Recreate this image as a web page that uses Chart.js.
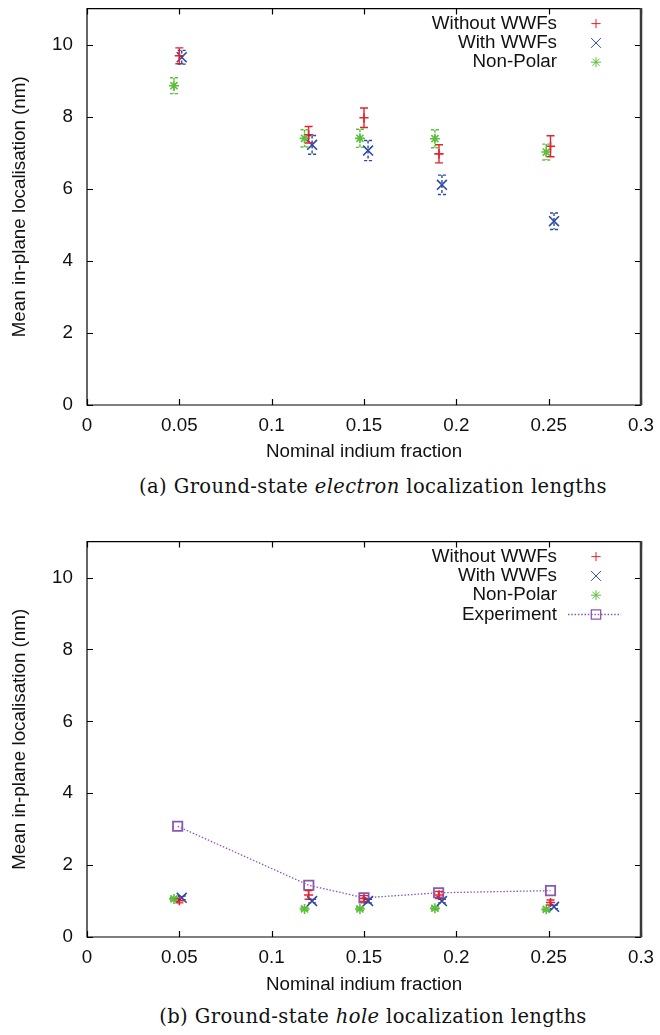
<!DOCTYPE html>
<html>
<head>
<meta charset="utf-8">
<script src="https://cdn.jsdelivr.net/npm/chart.js@4.4.1/dist/chart.umd.min.js"></script>
<style>
  body { margin: 0; background: #fff; width: 660px; height: 1035px; position: relative; overflow: hidden; }
  canvas { position: absolute; left: 0; }
  .cap { position: absolute; left: 96px; width: 554px; text-align: center; white-space: nowrap;
         font-family: "DejaVu Serif", "Liberation Serif", serif; font-size: 19.5px; letter-spacing: 0.4px; color: #111; }
</style>
</head>
<body>
<canvas id="electron" width="660" height="472" style="top:0"></canvas>
<div class="cap" style="top:475px">(a) Ground-state <i>electron</i> localization lengths</div>
<canvas id="hole" width="660" height="472" style="top:533px"></canvas>
<div class="cap" style="top:1005px">(b) Ground-state <i>hole</i> localization lengths</div>

<script>
// Axis ticks
const xTicks = [0, 0.05, 0.1, 0.15, 0.2, 0.25, 0.3];
const yTicks = [0, 2, 4, 6, 8, 10];

// Series labels
const nameWithout = 'Without WWFs';
const nameWith = 'With WWFs';
const nameNonPolar = 'Non-Polar';
const nameExperiment = 'Experiment';

// Nominal indium fraction of each sample (slightly offset per series)
const withoutX  = [0.0500, 0.1200, 0.1500, 0.1906, 0.2510];
const withX     = [0.0513, 0.1219, 0.1522, 0.1922, 0.2529];
const nonPolarX = [0.0471, 0.1178, 0.1478, 0.1884, 0.2487];
const experimentX = [0.0491, 0.1201, 0.1500, 0.1904, 0.2510];

// Electron localisation lengths (nm) and their error bars
const electronWithout    = [9.69, 7.50, 7.97, 6.97, 7.18];
const electronWithoutErr = [0.22, 0.23, 0.27, 0.25, 0.29];
const electronWith       = [9.65, 7.22, 7.06, 6.11, 5.10];
const electronWithErr    = [0.19, 0.26, 0.28, 0.27, 0.23];
const electronNonPolar    = [8.86, 7.40, 7.40, 7.39, 7.02];
const electronNonPolarErr = [0.22, 0.24, 0.25, 0.25, 0.22];

// Hole localisation lengths (nm) and their error bars
const holeWithout    = [1.01, 1.17, 1.07, 1.17, 0.96];
const holeWithoutErr = [0.06, 0.12, 0.08, 0.10, 0.07];
const holeWith       = [1.09, 1.00, 1.00, 1.00, 0.84];
const holeWithErr    = [0.05, 0.05, 0.05, 0.05, 0.05];
const holeNonPolar    = [1.06, 0.78, 0.78, 0.80, 0.77];
const holeNonPolarErr = [0.04, 0.04, 0.04, 0.04, 0.04];
const holeExperiment  = [3.08, 1.44, 1.09, 1.23, 1.29];

const RED = '#e8222c', BLUE = '#2c48a8', GREEN = '#5cbf3c', PURPLE = '#8a58b4';
const FONT = '"Liberation Sans", Arial, Helvetica, sans-serif';
const FS = 18.8;

const pts = (xs, ys) => xs.map((x, i) => ({ x: x, y: ys[i] }));

function pointDs(label, xs, ys, errs, color, style, radius, dashed) {
  return {
    label, data: pts(xs, ys), errors: errs, errDashed: dashed,
    showLine: false, pointStyle: style, pointRadius: radius, pointHoverRadius: radius,
    borderColor: color, backgroundColor: color, pointBorderWidth: 1.6, borderWidth: 1.6
  };
}

// Error bars drawn from the datasets' own error arrays
const errorBars = {
  id: 'errorBars',
  afterDatasetsDraw(chart) {
    const { ctx, scales: { x, y } } = chart;
    ctx.save();
    chart.data.datasets.forEach(ds => {
      if (!ds.errors) return;
      ctx.strokeStyle = ds.borderColor;
      ctx.lineWidth = 1.4;
      ctx.setLineDash(ds.errDashed ? [3, 2] : []);
      ds.data.forEach((p, i) => {
        const e = ds.errors[i];
        const px = x.getPixelForValue(p.x);
        const y1 = y.getPixelForValue(p.y + e), y2 = y.getPixelForValue(p.y - e);
        const cap = 4;
        ctx.beginPath();
        ctx.moveTo(px, y1); ctx.lineTo(px, y2);
        ctx.moveTo(px - cap, y1); ctx.lineTo(px + cap, y1);
        ctx.moveTo(px - cap, y2); ctx.lineTo(px + cap, y2);
        ctx.stroke();
      });
    });
    ctx.restore();
  }
};

// Plot frame with inward ticks on all four sides
const frame = {
  id: 'frame',
  afterDraw(chart) {
    const { ctx, chartArea: a, scales: { x, y } } = chart;
    ctx.save();
    ctx.strokeStyle = '#000';
    ctx.lineWidth = 1.2;
    ctx.beginPath();
    ctx.moveTo(a.right, a.top); ctx.lineTo(a.left, a.top);
    ctx.lineTo(a.left, a.bottom); ctx.lineTo(a.right, a.bottom);
    const t = 6;
    xTicks.forEach(v => {
      const px = Math.round(x.getPixelForValue(v)) + 0.5;
      ctx.moveTo(px, a.bottom); ctx.lineTo(px, a.bottom - t);
      ctx.moveTo(px, a.top); ctx.lineTo(px, a.top + t);
    });
    yTicks.forEach(v => {
      const py = Math.round(y.getPixelForValue(v)) + 0.5;
      ctx.moveTo(a.left, py); ctx.lineTo(a.left + t, py);
      ctx.moveTo(a.right, py); ctx.lineTo(a.right - t, py);
    });
    ctx.stroke();
    ctx.strokeStyle = '#3a3a3a';
    ctx.lineWidth = 2.5;
    ctx.beginPath();
    ctx.moveTo(a.right, a.top - 0.6); ctx.lineTo(a.right, a.bottom + 0.6);
    ctx.stroke();
    ctx.restore();
  }
};

// Key in the upper right: right-aligned labels followed by their samples
const key = {
  id: 'key',
  afterDraw(chart) {
    const { ctx, chartArea: a } = chart;
    const textRight = 557, sampleX = 596, rowH = 19.3;
    ctx.save();
    ctx.font = FS + 'px ' + FONT;
    ctx.textAlign = 'right';
    ctx.textBaseline = 'middle';
    chart.data.datasets.forEach((ds, i) => {
      const yy = a.top + 15 + i * rowH;
      ctx.fillStyle = '#111';
      ctx.fillText(ds.label, textRight, yy);
      ctx.strokeStyle = ds.borderColor;
      ctx.fillStyle = ds.showLine ? 'rgba(0,0,0,0)' : ds.borderColor;
      if (ds.showLine) {
        ctx.lineWidth = ds.borderWidth;
        ctx.setLineDash(ds.borderDash);
        ctx.beginPath(); ctx.moveTo(568, yy); ctx.lineTo(621, yy); ctx.stroke();
        ctx.setLineDash([]);
      }
      Chart.helpers.drawPoint(ctx, {
        pointStyle: ds.pointStyle, radius: ds.pointRadius, rotation: 0,
        borderWidth: ds.pointBorderWidth
      }, sampleX, yy);
    });
    ctx.restore();
  }
};

function makeChart(id, datasets, plotBottom) {
  const H = 472;
  return new Chart(document.getElementById(id), {
    type: 'scatter',
    data: { datasets },
    plugins: [errorBars, frame, key],
    options: {
      responsive: false, animation: false, devicePixelRatio: 1,
      layout: { padding: { top: 8, right: 19, left: 0, bottom: 0 } },
      plugins: { legend: { display: false }, tooltip: { enabled: false } },
      scales: {
        x: {
          type: 'linear', min: 0, max: 0.3,
          grid: { display: false, drawTicks: false }, border: { display: false },
          afterBuildTicks: s => { s.ticks = xTicks.map(v => ({ value: v })); },
          afterFit: s => { s.height = H - plotBottom; s.paddingLeft = 0; s.paddingRight = 0; },
          ticks: { padding: 10, color: '#111', font: { family: FONT, size: FS },
                   callback: v => String(+v.toFixed(2)) },
          title: { display: true, text: 'Nominal indium fraction', color: '#111',
                   font: { family: FONT, size: FS }, padding: { top: 0, bottom: 9 } }
        },
        y: {
          type: 'linear', min: 0, max: 11,
          grid: { display: false, drawTicks: false }, border: { display: false },
          afterBuildTicks: s => { s.ticks = yTicks.map(v => ({ value: v })); },
          afterFit: s => { s.width = 87; s.paddingTop = 0; s.paddingBottom = 0; },
          ticks: { padding: 14, color: '#111', font: { family: FONT, size: FS } },
          title: { display: true, text: 'Mean in-plane localisation (nm)', color: '#111',
                   font: { family: FONT, size: FS }, padding: { top: 9, bottom: 0 } }
        }
      }
    }
  });
}

makeChart('electron', [
  pointDs(nameWithout, withoutX, electronWithout, electronWithoutErr, RED, 'cross', 4.6, false),
  pointDs(nameWith, withX, electronWith, electronWithErr, BLUE, 'crossRot', 7, true),
  pointDs(nameNonPolar, nonPolarX, electronNonPolar, electronNonPolarErr, GREEN, 'star', 5, true)
], 405);

makeChart('hole', [
  pointDs(nameWithout, withoutX, holeWithout, holeWithoutErr, RED, 'cross', 4.6, false),
  pointDs(nameWith, withX, holeWith, holeWithErr, BLUE, 'crossRot', 7, true),
  pointDs(nameNonPolar, nonPolarX, holeNonPolar, holeNonPolarErr, GREEN, 'star', 5, true),
  {
    label: nameExperiment, data: pts(experimentX, holeExperiment),
    showLine: true, borderColor: PURPLE, borderWidth: 1.3, borderDash: [1.5, 1.8],
    pointStyle: 'rect', pointRadius: 6.6, pointHoverRadius: 6.6,
    pointBorderWidth: 1.8, pointBackgroundColor: 'rgba(0,0,0,0)', backgroundColor: 'rgba(0,0,0,0)'
  }
], 404);
</script>
</body>
</html>
